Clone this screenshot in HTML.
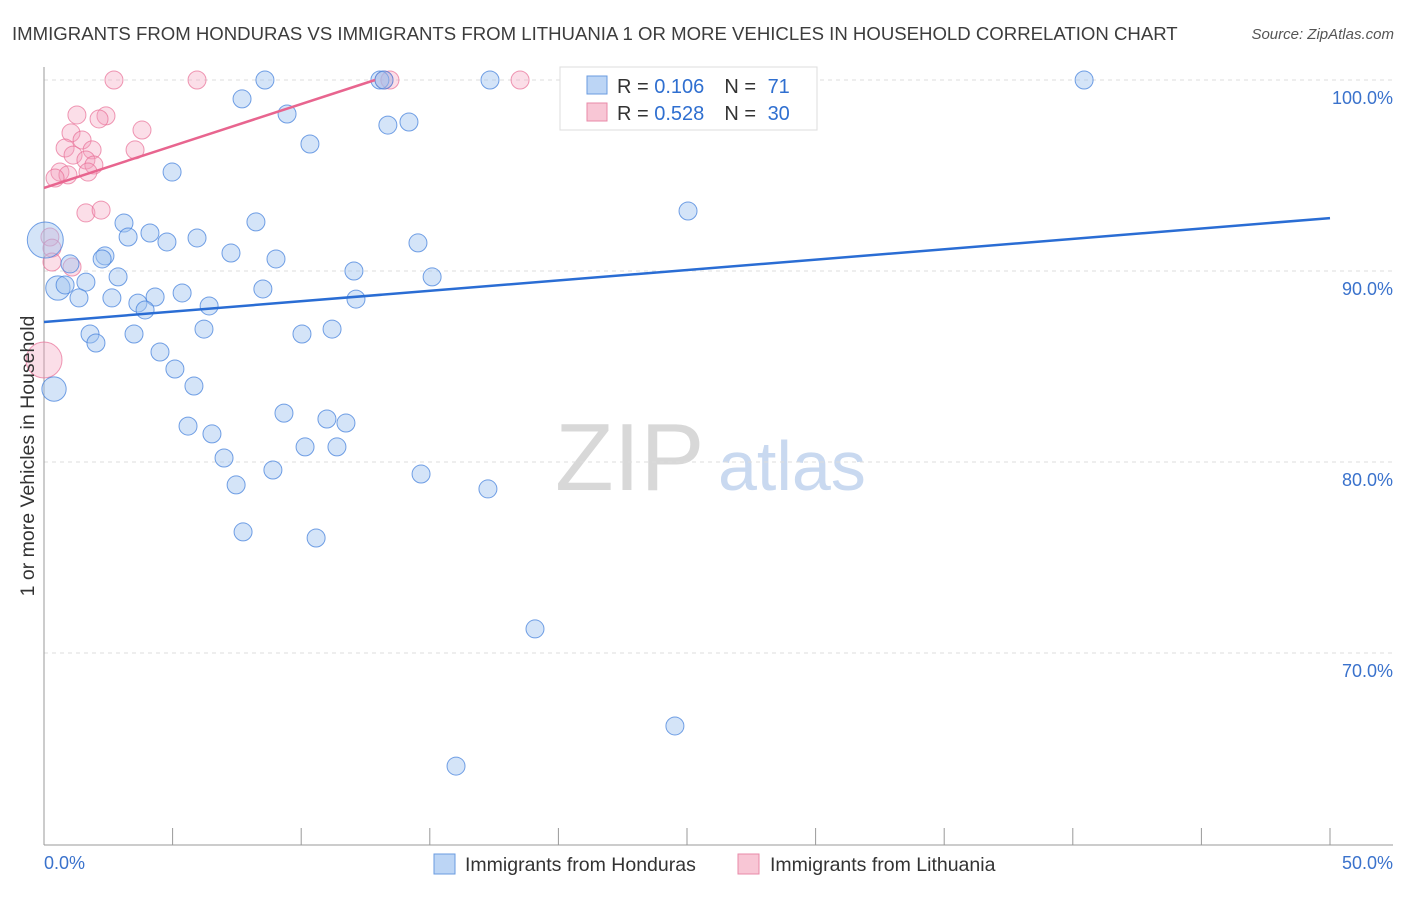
<!DOCTYPE html>
<html><head><meta charset="utf-8">
<style>
body{margin:0;background:#fff;font-family:"Liberation Sans",sans-serif}
svg text{font-family:"Liberation Sans",sans-serif}
</style></head>
<body>
<svg id="chart" width="1406" height="892" viewBox="0 0 1406 892" xmlns="http://www.w3.org/2000/svg">
<text x="12" y="40" font-size="18.6" fill="#3c3c3c">IMMIGRANTS FROM HONDURAS VS IMMIGRANTS FROM LITHUANIA 1 OR MORE VEHICLES IN HOUSEHOLD CORRELATION CHART</text>
<text x="1394" y="39" font-size="15" fill="#555" font-style="italic" text-anchor="end">Source: ZipAtlas.com</text>
<g>
<text x="555" y="490" font-size="96" fill="#d8d8d8" font-family="Liberation Serif, serif">ZIP</text>
<text x="718" y="490" font-size="70" fill="#c9d9f0">atlas</text>
</g>
<g id="grid"></g>
<g id="axes"></g>
<g id="pts"></g>
<g id="trends"></g>
<g>
<rect x="560" y="67" width="257" height="63" fill="#fff" stroke="#ddd"/>
<rect x="587" y="76" width="20" height="18" fill="#bcd5f5" stroke="#6a9be0"/>
<rect x="587" y="103" width="20" height="18" fill="#f8c6d5" stroke="#e88aa8"/>
<text x="617" y="93" font-size="20" fill="#333">R = <tspan fill="#2f6fd0">0.106</tspan><tspan dx="20">N = </tspan><tspan fill="#2f6fd0" dx="6">71</tspan></text>
<text x="617" y="120" font-size="20" fill="#333">R = <tspan fill="#2f6fd0">0.528</tspan><tspan dx="20">N = </tspan><tspan fill="#2f6fd0" dx="6">30</tspan></text>
</g>
<g>
<rect x="434" y="854" width="21" height="20" fill="#bcd5f5" stroke="#6a9be0"/>
<text x="465" y="871" font-size="19.5" fill="#333">Immigrants from Honduras</text>
<rect x="738" y="854" width="21" height="20" fill="#f8c6d5" stroke="#e88aa8"/>
<text x="770" y="871" font-size="19.5" fill="#333">Immigrants from Lithuania</text>
</g>
<text transform="translate(34,456) rotate(-90)" font-size="19.5" fill="#333" text-anchor="middle">1 or more Vehicles in Household</text>
</svg>
<script>
const yTicks=[100,90,80,70];
const yTickLabels=["100.0%","90.0%","80.0%","70.0%"];
const xTickLabels=["0.0%","50.0%"];
const blueX=[8.59,13.06,13.22,17.34,23.83,28.23,40.44,7.70,9.45,13.37,14.19,10.34,4.98,25.04,3.11,8.24,4.12,3.27,4.78,5.95,14.54,0.05,7.27,2.37,2.26,9.02,1.01,12.05,15.09,2.88,1.63,0.54,0.82,5.37,1.36,2.64,4.32,3.65,8.51,12.13,6.42,3.93,6.22,11.20,1.79,3.50,10.03,2.02,4.51,5.09,5.83,0.39,9.33,11.00,11.74,5.60,6.53,10.15,11.39,7.00,8.90,14.66,7.47,17.26,7.74,10.58,19.09,24.53,16.02];
const blueY=[100,100,100,100,100,100,100,99.01,98.22,97.64,97.80,96.65,95.18,93.14,92.51,92.57,91.99,91.78,91.52,91.73,91.47,91.62,90.94,90.79,90.63,90.63,90.37,90.0,89.69,89.69,89.42,89.11,89.27,88.85,88.59,88.59,88.64,88.32,89.06,88.53,88.17,87.96,86.96,86.96,86.70,86.70,86.70,86.23,85.76,84.87,83.98,83.82,82.56,82.25,82.04,81.88,81.47,80.79,80.79,80.21,79.58,79.37,78.80,78.59,76.34,76.02,71.26,66.18,64.08];
const blueSize=[1,1,1,1,1,1,1,1,1,1,1,1,1,1,1,1,1,1,1,1,1,2,1,1,1,1,1,1,1,1,1,1.35,1,1,1,1,1,1,1,1,1,1,1,1,1,1,1,1,1,1,1,1.35,1,1,1,1,1,1,1,1,1,1,1,1,1,1,1,1,1];
const pinkX=[2.72,5.95,13.22,13.45,18.51,1.28,2.41,2.14,3.81,1.05,1.48,3.54,0.82,1.87,1.13,1.63,1.94,0.62,0.93,1.71,0.43,1.63,2.22,0.23,0.31,0.31,1.09,0.0];
const pinkY=[100,100,100,100,100,98.17,98.12,97.96,97.38,97.23,96.86,96.34,96.44,96.34,96.07,95.81,95.55,95.18,95.03,95.18,94.87,93.04,93.19,91.78,91.20,90.47,90.21,85.34];
const pinkSize=[1,1,1,1,1,1,1,1,1,1,1,1,1,1,1,1,1,1,1,1,1,1,1,1,1,1,1,2];
const blueTrend=[[0,87.33],[50,92.77]];
const pinkTrend=[[0,94.35],[12.87,100]];
const sx=v=>44+v*25.72, sy=v=>80+(100-v)*19.1;
const NS="http://www.w3.org/2000/svg";
function mk(tag,attrs,parent){const e=document.createElementNS(NS,tag);for(const k in attrs)e.setAttribute(k,attrs[k]);parent.appendChild(e);return e;}
const grid=document.getElementById('grid'),axes=document.getElementById('axes'),pts=document.getElementById('pts'),tr=document.getElementById('trends');
yTicks.forEach((t,i)=>{
 const l=mk('line',{x1:44,x2:1393,y1:sy(t),y2:sy(t),stroke:'#ddd','stroke-dasharray':'4,4'},grid);
 
 
 const tx=mk('text',{x:1393,y:sy(t)+24,'font-size':18,fill:'#3a72cc','text-anchor':'end'},axes);
 tx.textContent=yTickLabels[i];
 
 
});
const ya=mk('line',{x1:44,x2:44,y1:67,y2:845,stroke:'#999'},axes);


const xa=mk('line',{x1:44,x2:1393,y1:845,y2:845,stroke:'#999'},axes);


for(let i=0;i<=10;i++){const tk=mk('line',{x1:sx(i*5),x2:sx(i*5),y1:828,y2:845,stroke:'#999'},axes);
 
 }
const xl0=mk('text',{x:44,y:869,'font-size':18,fill:'#3a72cc'},axes);xl0.textContent=xTickLabels[0];


const xl1=mk('text',{x:1393,y:869,'font-size':18,fill:'#3a72cc','text-anchor':'end'},axes);xl1.textContent=xTickLabels[1];


pinkX.forEach((v,i)=>{const c=mk('circle',{cx:sx(v),cy:sy(pinkY[i]),r:9*pinkSize[i],fill:'rgba(244,160,188,0.35)',stroke:'rgba(232,110,150,0.7)','stroke-width':1},pts);
 
 });
blueX.forEach((v,i)=>{const c=mk('circle',{cx:sx(v),cy:sy(blueY[i]),r:9*blueSize[i],fill:'rgba(160,195,240,0.45)',stroke:'rgba(70,130,220,0.75)','stroke-width':1},pts);
 
 });
const bl=mk('line',{x1:sx(blueTrend[0][0]),y1:sy(blueTrend[0][1]),x2:sx(blueTrend[1][0]),y2:sy(blueTrend[1][1]),stroke:'#2a6dd4','stroke-width':2.5},tr);


const pl=mk('line',{x1:sx(pinkTrend[0][0]),y1:sy(pinkTrend[0][1]),x2:sx(pinkTrend[1][0]),y2:sy(pinkTrend[1][1]),stroke:'#e8658f','stroke-width':2.5},tr);


</script>
</body></html>
